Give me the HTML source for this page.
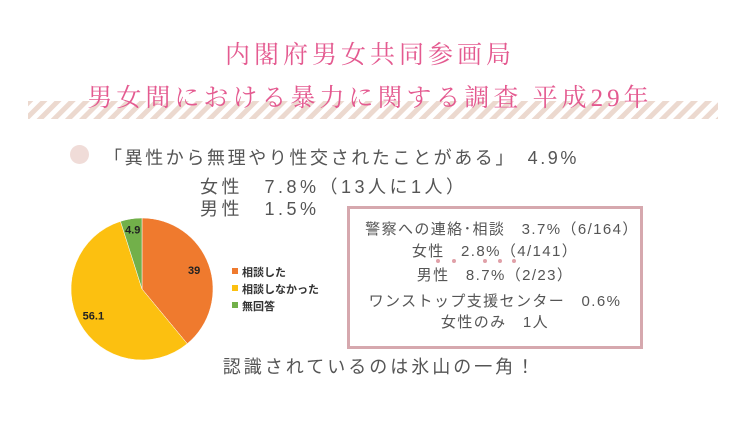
<!DOCTYPE html>
<html><head><meta charset="utf-8"><style>
body{margin:0;width:740px;height:430px;background:#fff;position:relative;overflow:hidden;font-family:"Liberation Sans","Noto Sans CJK JP",sans-serif;color:#555}
.t{position:absolute;white-space:nowrap}
.title{font-family:"Liberation Serif","Noto Serif CJK SC",serif;color:#e45a90;font-size:25px;left:0;width:740px;text-align:center;letter-spacing:4px}
</style></head><body>
<svg style="position:absolute;left:0;top:0" width="740" height="430">
<defs><pattern id="st" width="10" height="10" patternUnits="userSpaceOnUse" patternTransform="rotate(45)"><rect width="5" height="10" fill="#ecd9cf"/></pattern></defs>
<rect x="28" y="101" width="690" height="18" fill="url(#st)"/>
</svg>
<div class="t title" style="top:35px">内閣府男女共同参画局</div>
<div class="t title" style="top:78px">男女間における暴力に関する調査 平成29年</div>
<div style="position:absolute;left:70px;top:145px;width:19px;height:19px;border-radius:50%;background:#f0dcd8"></div>
<div class="t" style="left:104px;top:144px;font-size:18px;letter-spacing:2.6px">「異性から無理やり性交されたことがある」　4.9%</div>
<div class="t" style="left:200px;top:173px;font-size:18px;letter-spacing:3.5px">女性　7.8%（13人に1人）</div>
<div class="t" style="left:200px;top:195px;font-size:18px;letter-spacing:3.5px">男性　1.5%</div>
<svg id="pie" style="position:absolute;left:0;top:0" width="340" height="430"></svg>
<div style="position:absolute;left:347px;top:206px;width:290px;height:127px;border:3px solid #d6a8ae;font-size:15px;text-align:center;line-height:21.5px;padding-top:10px;box-sizing:content-box;letter-spacing:1.4px">
<div style="margin-left:14px">警察への連絡･相談　3.7%（6/164）</div>
<div style="margin-bottom:3px">女性　2.8%（4/141）</div>
<div>男性　8.7%（2/23）</div>
<div style="margin-top:4px">ワンストップ支援センター　0.6%</div>
<div>女性のみ　1人</div>
</div>
<svg style="position:absolute;left:0;top:0" width="740" height="430">
<g fill="#e0a0a8"><circle cx="438" cy="261" r="2"/><circle cx="454" cy="261" r="2"/><circle cx="485" cy="261" r="2"/><circle cx="500" cy="261" r="2"/><circle cx="514" cy="261" r="2"/></g></svg>
<div class="t" style="left:0;width:760px;text-align:center;top:353px;font-size:18px;letter-spacing:3px">認識されているのは氷山の一角！</div>
<script>
const categories=["相談した","相談しなかった","無回答"];
const values=[39,56.1,4.9];
const valueLabels=["39","56.1","4.9"];
const colors=["#ef7a2e","#fcc010","#72b04a"];
const svg=document.getElementById('pie');const NS="http://www.w3.org/2000/svg";
const cx=142,cy=289,r=71;const total=values.reduce((a,b)=>a+b,0);
function pt(a,rr){return [cx+rr*Math.sin(a),cy-rr*Math.cos(a)];}
let acc=0;
values.forEach((v,i)=>{const a0=acc/total*2*Math.PI;acc+=v;const a1=acc/total*2*Math.PI;
const p0=pt(a0,r),p1=pt(a1,r);const large=(a1-a0)>Math.PI?1:0;
const p=document.createElementNS(NS,'path');
p.setAttribute('d',`M${cx},${cy}L${p0[0]},${p0[1]}A${r},${r} 0 ${large} 1 ${p1[0]},${p1[1]}Z`);
p.setAttribute('fill',colors[i]);p.setAttribute('stroke','#fff');p.setAttribute('stroke-width','0.5');


svg.appendChild(p);
const m=(a0+a1)/2;const lp=pt(m,v<10?r*0.85:r*0.78);
const t=document.createElementNS(NS,'text');t.setAttribute('x',lp[0]);t.setAttribute('y',lp[1]+4);
t.setAttribute('text-anchor','middle');t.setAttribute('font-size','11');t.setAttribute('font-weight','bold');t.setAttribute('fill','#222');
t.textContent=valueLabels[i];


svg.appendChild(t);
const ly=272+i*17;
const sq=document.createElementNS(NS,'rect');sq.setAttribute('x',232);sq.setAttribute('y',ly-4);sq.setAttribute('width',6);sq.setAttribute('height',6);sq.setAttribute('fill',colors[i]);


svg.appendChild(sq);
const lt=document.createElementNS(NS,'text');lt.setAttribute('x',242);lt.setAttribute('y',ly+4);lt.setAttribute('font-size','11');lt.setAttribute('font-weight','bold');lt.setAttribute('fill','#333');
lt.textContent=categories[i];


svg.appendChild(lt);
});
</script>
</body></html>
